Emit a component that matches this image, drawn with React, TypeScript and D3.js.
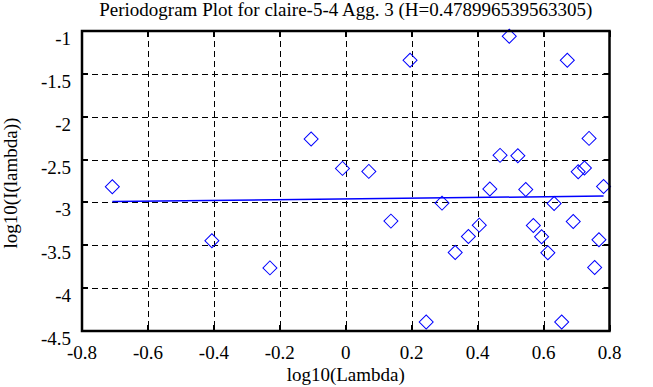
import React from "react";
import * as d3 from "d3";

// periodogram points: log10(lambda), log10(I(lambda))
const logLambda = [
  -0.708, -0.406, -0.23, -0.105, -0.01, 0.07, 0.137, 0.195, 0.244, 0.292,
  0.332, 0.372, 0.405, 0.437, 0.468, 0.496, 0.522, 0.546, 0.569, 0.594,
  0.613, 0.632, 0.655, 0.672, 0.69, 0.705, 0.724, 0.738, 0.755, 0.768, 0.782,
];
const logPower = [
  -2.817, -3.448, -3.764, -2.26, -2.603, -2.638, -3.218, -1.341, -4.395, -3.008,
  -3.585, -3.398, -3.265, -2.844, -2.451, -1.061, -2.455, -2.849, -3.269, -3.401,
  -3.588, -3.012, -4.395, -1.341, -3.223, -2.642, -2.599, -2.253, -3.76, -3.436, -2.814,
];

// least squares fit endpoints
const fitX = [-0.708, 0.782];
const fitY = [-2.989, -2.926];

const xTicks = [-0.8, -0.6, -0.4, -0.2, 0, 0.2, 0.4, 0.6, 0.8];
const yTicks = [-1, -1.5, -2, -2.5, -3, -3.5, -4, -4.5];

const title = "Periodogram Plot for claire-5-4 Agg. 3 (H=0.478996539563305)";

const width = 653;
const height = 387;
const margin = { top: 31, right: 43.5, bottom: 56, left: 82 };
const serif = { fontFamily: "Liberation Serif, Times New Roman, serif" };

const App = () => {
  const graph = {
    left: margin.left,
    right: width - margin.right,
    top: margin.top,
    bottom: height - margin.bottom,
  };

  const scales = {
    x: d3.scaleLinear().domain([-0.8, 0.8]).range([graph.left, graph.right]),
    y: d3.scaleLinear().domain([-1, -4.5]).range([graph.top, graph.bottom]),
  };

  const diamond = d3.symbol().type(d3.symbolSquare).size(98)();

  const fitLine = d3
    .line<number>()
    .x((d) => scales.x(d))
    .y((d, i) => scales.y(fitY[i]));

  const tickLen = 6;

  return (
    <svg
      width={width}
      height={height}
      style={{ position: "absolute", left: 0, top: 0, background: "#fff" }}
    >
      <rect width={width} height={height} fill="#fff" />

      {/* grid */}
      <g stroke="#000" strokeWidth={1} strokeDasharray="6,4" fill="none">
        {xTicks.slice(1, -1).map((t) => (
          <line
            key={`gx${t}`}
            x1={Math.round(scales.x(t)) + 0.5}
            x2={Math.round(scales.x(t)) + 0.5}
            y1={graph.top}
            y2={graph.bottom}
          />
        ))}
        {yTicks.slice(1, -1).map((t) => (
          <line
            key={`gy${t}`}
            x1={graph.left}
            x2={graph.right}
            y1={Math.round(scales.y(t)) + 0.5}
            y2={Math.round(scales.y(t)) + 0.5}
          />
        ))}
      </g>

      {/* inward ticks */}
      <g stroke="#000" strokeWidth={2}>
        {xTicks.map((t) => (
          <g key={`tx${t}`}>
            <line
              x1={Math.round(scales.x(t))}
              x2={Math.round(scales.x(t))}
              y1={graph.top}
              y2={graph.top + tickLen}
            />
            <line
              x1={Math.round(scales.x(t))}
              x2={Math.round(scales.x(t))}
              y1={graph.bottom}
              y2={graph.bottom - tickLen}
            />
          </g>
        ))}
        {yTicks.map((t) => (
          <g key={`ty${t}`}>
            <line
              x1={graph.left}
              x2={graph.left + tickLen}
              y1={Math.round(scales.y(t))}
              y2={Math.round(scales.y(t))}
            />
            <line
              x1={graph.right}
              x2={graph.right - tickLen}
              y1={Math.round(scales.y(t))}
              y2={Math.round(scales.y(t))}
            />
          </g>
        ))}
      </g>

      {/* fitted line */}
      <path d={fitLine(fitX) || ""} fill="none" stroke="#0000ff" strokeWidth={1.5} />

      {/* points */}
      <g fill="none" stroke="#0000ff" strokeWidth={1}>
        {logLambda.map((x, i) => (
          <path
            key={i}
            d={diamond}
            transform={`translate(${scales.x(x)},${scales.y(logPower[i])}) rotate(45)`}
          />
        ))}
      </g>

      {/* frame */}
      <rect
        x={graph.left}
        y={graph.top}
        width={graph.right - graph.left}
        height={graph.bottom - graph.top}
        fill="none"
        stroke="#000"
        strokeWidth={2.5}
      />

      {/* tick labels */}
      <g style={serif} fontSize={19} fill="#000">
        {xTicks.map((t) => (
          <text key={`lx${t}`} x={scales.x(t)} y={graph.bottom + 28} textAnchor="middle">
            {t}
          </text>
        ))}
        {yTicks.map((t) => (
          <text key={`ly${t}`} x={71} y={scales.y(t) + 14} textAnchor="end">
            {t}
          </text>
        ))}
      </g>

      {/* labels */}
      <text
        x={(graph.left + graph.right) / 2}
        y={16}
        textAnchor="middle"
        style={serif}
        fontSize={19}
      >
        {title}
      </text>
      <text
        x={(graph.left + graph.right) / 2}
        y={381}
        textAnchor="middle"
        style={serif}
        fontSize={19}
      >
        log10(Lambda)
      </text>
      <text
        transform={`translate(17,183) rotate(-90)`}
        textAnchor="middle"
        style={serif}
        fontSize={19}
      >
        log10(I(lambda))
      </text>
    </svg>
  );
};

export default App;
